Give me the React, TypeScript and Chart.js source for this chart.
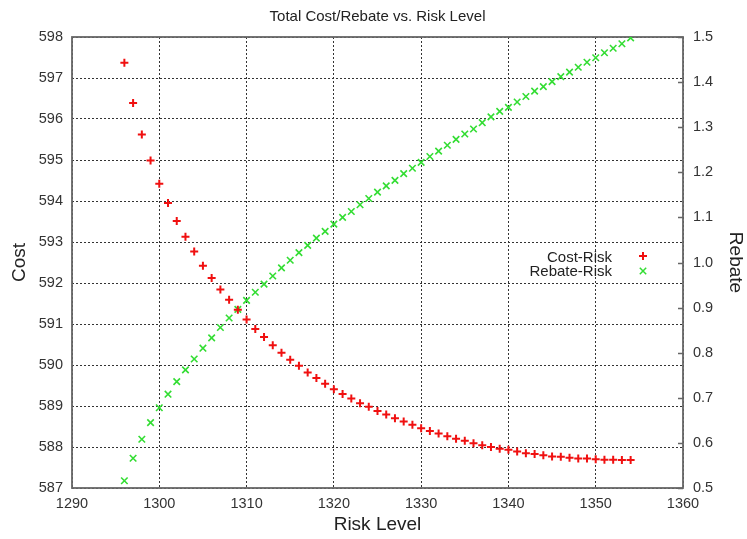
import React, { useEffect, useRef } from "react";
import { Chart, registerables } from "chart.js";

Chart.register(...registerables);

const chartTitle = "Total Cost/Rebate vs. Risk Level";
const xTitle = "Risk Level";
const costTitle = "Cost";
const rebateTitle = "Rebate";
const costLabel = "Cost-Risk";
const rebateLabel = "Rebate-Risk";

const riskLevels = [
  1296, 1297, 1298, 1299, 1300, 1301, 1302, 1303, 1304, 1305,
  1306, 1307, 1308, 1309, 1310, 1311, 1312, 1313, 1314, 1315,
  1316, 1317, 1318, 1319, 1320, 1321, 1322, 1323, 1324, 1325,
  1326, 1327, 1328, 1329, 1330, 1331, 1332, 1333, 1334, 1335,
  1336, 1337, 1338, 1339, 1340, 1341, 1342, 1343, 1344, 1345,
  1346, 1347, 1348, 1349, 1350, 1351, 1352, 1353, 1354,
];

const costValues = [
  597.37, 596.39, 595.62, 594.99, 594.42, 593.95, 593.51, 593.13, 592.77, 592.42,
  592.12, 591.84, 591.59, 591.35, 591.11, 590.88, 590.68, 590.48, 590.30, 590.13,
  589.98, 589.82, 589.68, 589.54, 589.41, 589.29, 589.18, 589.07, 588.98, 588.88,
  588.79, 588.70, 588.62, 588.54, 588.46, 588.39, 588.33, 588.26, 588.20, 588.15,
  588.09, 588.04, 588.00, 587.96, 587.93, 587.89, 587.85, 587.83, 587.80, 587.77,
  587.76, 587.74, 587.72, 587.72, 587.70, 587.69, 587.69, 587.68, 587.68,
];

const rebateValues = [
  0.516, 0.566, 0.608, 0.645, 0.678, 0.708, 0.736, 0.762, 0.786, 0.810,
  0.833, 0.856, 0.877, 0.896, 0.916, 0.934, 0.952, 0.970, 0.988, 1.005,
  1.022, 1.038, 1.054, 1.069, 1.085, 1.100, 1.113, 1.128, 1.142, 1.156,
  1.170, 1.182, 1.197, 1.209, 1.222, 1.235, 1.247, 1.260, 1.273, 1.285,
  1.296, 1.310, 1.323, 1.335, 1.344, 1.356, 1.368, 1.380, 1.390, 1.401,
  1.412, 1.422, 1.433, 1.444, 1.454, 1.465, 1.475, 1.485, 1.498,
];

const xTicks = [1290, 1300, 1310, 1320, 1330, 1340, 1350, 1360];
const costTicks = [587, 588, 589, 590, 591, 592, 593, 594, 595, 596, 597, 598];
const rebateTicks = [0.5, 0.6, 0.7, 0.8, 0.9, 1.0, 1.1, 1.2, 1.3, 1.4, 1.5];

const RED = "#f01010";
const GREEN = "#33dd33";
const FONT = "'Liberation Sans', Arial, sans-serif";

export default function App() {
  const ref = useRef<HTMLCanvasElement | null>(null);

  useEffect(() => {
    const canvas = ref.current;
    if (!canvas) return;

    const decor = {
      id: "decor",
      beforeDatasetsDraw(chart: any) {
        const { ctx, chartArea: a } = chart;
        ctx.save();
        ctx.strokeStyle = "#666";
        ctx.lineWidth = 1.8;
        ctx.strokeRect(a.left, a.top, a.right - a.left, a.bottom - a.top);
        const y1 = chart.scales.y1;
        ctx.lineWidth = 1.5;
        ctx.beginPath();
        rebateTicks.forEach((v) => {
          const py = Math.round(y1.getPixelForValue(v)) + 0.5;
          ctx.moveTo(a.right - 5, py);
          ctx.lineTo(a.right, py);
        });
        ctx.stroke();
        ctx.restore();
      },
      afterDraw(chart: any) {
        const { ctx, chartArea: a } = chart;
        ctx.save();
        ctx.fillStyle = "#222";
        ctx.font = `15px ${FONT}`;
        ctx.textAlign = "center";
        ctx.textBaseline = "alphabetic";
        ctx.fillText(chartTitle, (a.left + a.right) / 2, 21);

        // legend
        ctx.textAlign = "right";
        ctx.fillStyle = "#222";
        ctx.fillText(costLabel, 612, 261.5);
        ctx.fillText(rebateLabel, 612, 276);
        const mx = 643;
        ctx.strokeStyle = RED;
        ctx.lineWidth = 2;
        ctx.beginPath();
        ctx.moveTo(mx - 4, 256);
        ctx.lineTo(mx + 4, 256);
        ctx.moveTo(mx, 252);
        ctx.lineTo(mx, 260);
        ctx.stroke();
        ctx.strokeStyle = GREEN;
        ctx.lineWidth = 1.5;
        ctx.beginPath();
        ctx.moveTo(mx - 3.2, 271 - 3.2);
        ctx.lineTo(mx + 3.2, 271 + 3.2);
        ctx.moveTo(mx - 3.2, 271 + 3.2);
        ctx.lineTo(mx + 3.2, 271 - 3.2);
        ctx.stroke();
        ctx.restore();
      },
    };

    const gridCommon = {
      color: "#333",
      lineWidth: 1,
      drawTicks: false,
    };

    const tickFont = { family: FONT, size: 14.5 };

    const chart = new Chart(canvas, {
      type: "scatter",
      data: {
        datasets: [
          {
            label: costLabel,
            data: riskLevels.map((x, i) => ({ x, y: costValues[i] })),
            yAxisID: "y",
            pointStyle: "cross",
            pointRadius: 4,
            borderWidth: 2,
            borderColor: RED,
            backgroundColor: RED,
            showLine: false,
          },
          {
            label: rebateLabel,
            data: riskLevels.map((x, i) => ({ x, y: rebateValues[i] })),
            yAxisID: "y1",
            pointStyle: "crossRot",
            pointRadius: 4.6,
            borderWidth: 1.6,
            borderColor: GREEN,
            backgroundColor: GREEN,
            showLine: false,
          },
        ],
      },
      options: {
        responsive: false,
        maintainAspectRatio: false,
        animation: false,
        layout: { padding: { top: 37, left: 0, right: 0, bottom: 0 } },
        plugins: {
          legend: { display: false },
          title: { display: false },
          tooltip: { enabled: false },
        },
        scales: {
          x: {
            type: "linear",
            min: 1290,
            max: 1360,
            afterBuildTicks: (s: any) => {
              s.ticks = xTicks.map((v) => ({ value: v }));
            },
            afterFit: (s: any) => {
              s.height = 51;
            },
            grid: gridCommon,
            border: { display: false, dash: [2, 2] },
            ticks: {
              padding: 7,
              color: "#333",
              font: tickFont,
              maxRotation: 0,
              autoSkip: false,
              callback: (v: any) => String(v),
            },
            title: {
              display: true,
              text: xTitle,
              color: "#222",
              font: { family: FONT, size: 19 },
              padding: { top: 0, bottom: 3 },
            },
          },
          y: {
            type: "linear",
            position: "left",
            min: 587,
            max: 598,
            afterBuildTicks: (s: any) => {
              s.ticks = costTicks.map((v) => ({ value: v }));
            },
            afterFit: (s: any) => {
              s.width = 72;
            },
            grid: gridCommon,
            border: { display: false, dash: [2, 2] },
            ticks: {
              padding: 9,
              color: "#333",
              font: tickFont,
              autoSkip: false,
              callback: (v: any) => String(v),
            },
            title: {
              display: true,
              text: costTitle,
              color: "#222",
              font: { family: FONT, size: 19 },
              padding: { top: 8.6, bottom: 0 },
            },
          },
          y1: {
            type: "linear",
            position: "right",
            min: 0.5,
            max: 1.5,
            afterBuildTicks: (s: any) => {
              s.ticks = rebateTicks.map((v) => ({ value: v }));
            },
            afterFit: (s: any) => {
              s.width = 64;
            },
            grid: { display: false, drawTicks: false },
            border: { display: false },
            ticks: {
              padding: 10,
              color: "#333",
              font: tickFont,
              autoSkip: false,
              callback: (v: any) => Number(v).toFixed(1),
            },
            title: {
              display: true,
              text: rebateTitle,
              color: "#222",
              font: { family: FONT, size: 19 },
              padding: { top: 0.6, bottom: 0 },
            },
          },
        },
      },
      plugins: [decor],
    } as any);

    return () => chart.destroy();
  }, []);

  return (
    <div
      style={{
        position: "fixed",
        left: 0,
        top: 0,
        width: 747,
        height: 539,
        background: "#fff",
      }}
    >
      <canvas ref={ref} width={747} height={539} style={{ display: "block" }} />
    </div>
  );
}
